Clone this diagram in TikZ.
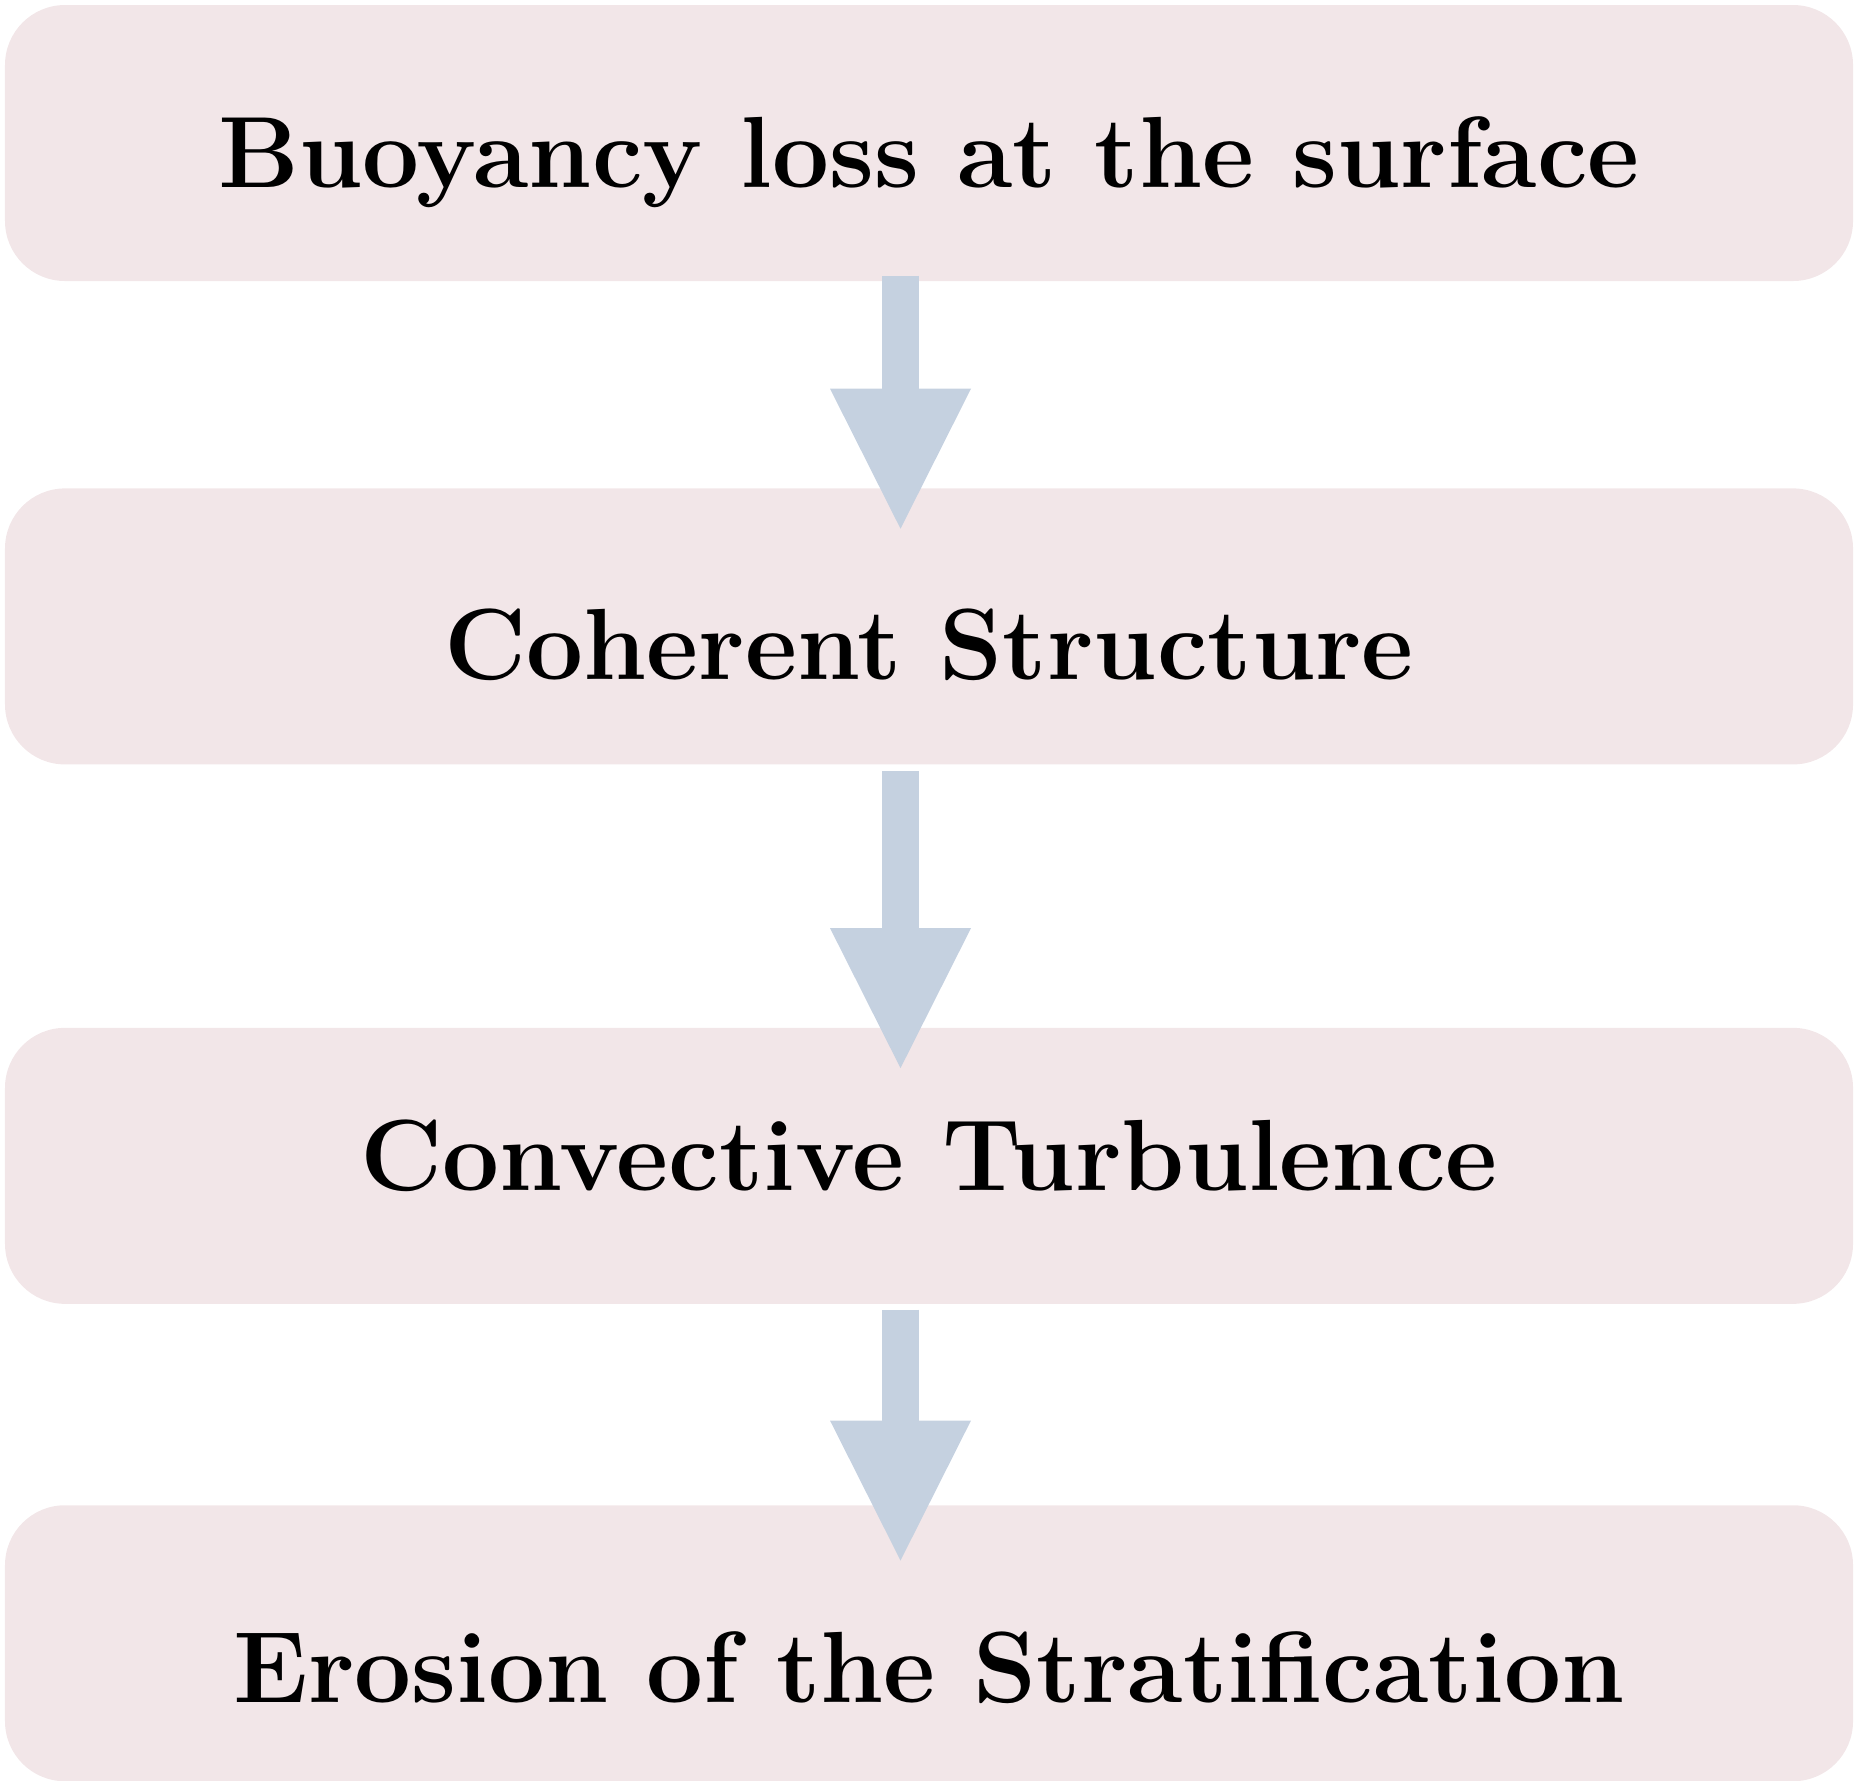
\documentclass[tikz,border=0pt]{standalone}
\usepackage{xcolor}
\usepackage{tikz}
\usetikzlibrary{arrows.meta,positioning}
\definecolor{blush}{HTML}{F2E6E8}
\definecolor{steel}{HTML}{C5D1E0}
\tikzset{
  stagebox/.style={
    rectangle, fill=blush, draw=none, rounded corners=0.6cm,
    minimum width=18.48cm, minimum height=2.76cm,
    inner sep=0pt
  },
  stagetext/.style={
    anchor=base, font=\fontsize{28.8}{35}\selectfont\bfseries
  },
  flowarrow/.style={
    line width=0.37cm, color=steel,
    -{Triangle[length=1.40cm, width=1.41cm, line width=0pt]}
  },
}
\begin{document}
\begin{tikzpicture}
  \useasboundingbox (0,0) rectangle (18.54,-17.80);

  % boxes
  \node[stagebox] (b1) at (9.29,-1.43) {};
  \node[stagebox, below=2.06cm of b1] (b2) {};
  \node[stagebox, below=2.62cm of b2] (b3) {};
  \node[stagebox, below=2.00cm of b3] (b4) {};

  % labels
  \node[stagetext] (t1) at ([yshift=-0.44cm]b1.center) {Buoyancy loss at the surface};
  \node[stagetext] (t2) at ([yshift=-0.53cm]b2.center) {Coherent Structure};
  \node[stagetext] (t3) at ([yshift=-0.25cm]b3.center) {Convective Turbulence};
  \node[stagetext] (t4) at ([yshift=-0.59cm]b4.center) {Erosion of the Stratification};

  % arrows
  \draw[flowarrow] ([xshift=-0.285cm, yshift=0.06cm]b1.south) -- ([xshift=-0.285cm, yshift=-0.41cm]b2.north);
  \draw[flowarrow] ([xshift=-0.285cm, yshift=-0.06cm]b2.south) -- ([xshift=-0.285cm, yshift=-0.41cm]b3.north);
  \draw[flowarrow] ([xshift=-0.285cm, yshift=-0.05cm]b3.south) -- ([xshift=-0.285cm, yshift=-0.56cm]b4.north);
\end{tikzpicture}
\end{document}
